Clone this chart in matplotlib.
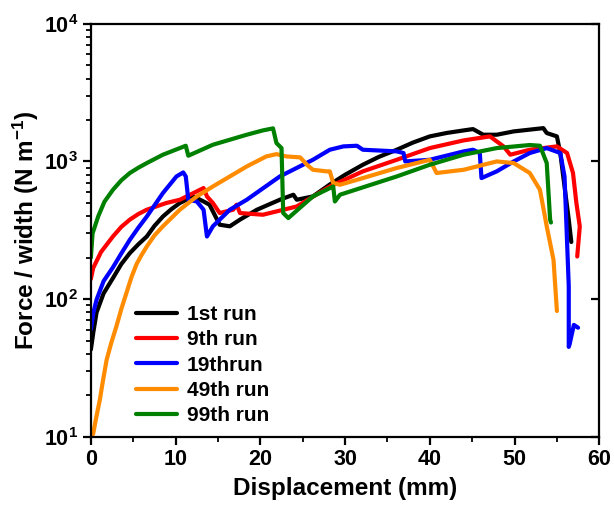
import matplotlib
matplotlib.use('Agg')
from matplotlib import pyplot as plt
from matplotlib.ticker import FixedLocator, LogLocator, NullFormatter, MultipleLocator

plt.rcParams['font.family'] = ['Liberation Sans', 'DejaVu Sans']
plt.rcParams['font.weight'] = 'bold'
plt.rcParams['mathtext.fontset'] = 'custom'
plt.rcParams['mathtext.rm'] = 'Liberation Sans:bold'
plt.rcParams['mathtext.bf'] = 'Liberation Sans:bold'
plt.rcParams['mathtext.default'] = 'bf'

# 1st run
x_1st = [0, 0.3, 0.67, 1.5, 2.6, 3.6, 4.6, 5.6, 6.6, 7.5, 8.5, 9.5, 10.5, 12.1, 13.3, 14.0, 15.2,
         16.4, 17.6, 19.6, 22.3, 23.9, 24.3, 26.2, 28.2, 30.0, 32.1, 34.0, 36.1, 38.0, 40.0, 42.0,
         44.0, 45.1, 46.3, 47.9, 49.9, 53.4, 53.8, 55.0, 55.4, 55.8, 56.4, 56.7]
y_1st = [43, 58, 80, 110, 142, 180, 216, 250, 285, 340, 398, 450, 499, 557, 512, 485, 347,
         338, 378, 446, 527, 573, 527, 557, 680, 800, 946, 1080, 1216, 1370, 1520, 1610,
         1680, 1718, 1563, 1563, 1652, 1745, 1608, 1520, 1151, 736, 378, 260]

# 9th run
x_9th = [0, 0.27, 1.2, 2.6, 3.6, 4.6, 5.6, 6.6, 8.9, 10.5, 12.1, 13.3, 13.7, 14.4, 15.2, 16.8,
         17.2, 17.6, 20.3, 24.3, 28.2, 32.1, 36.1, 40.0, 44.0, 47.1, 48.7, 49.5, 51.8, 55.0,
         56.2, 56.9, 57.3, 57.7, 57.4]
y_9th = [140, 168, 220, 285, 335, 378, 415, 446, 499, 527, 589, 641, 557, 499, 422, 446,
         485, 422, 410, 471, 658, 847, 1028, 1250, 1422, 1520, 1286, 1119, 1216, 1286,
         1151, 824, 499, 338, 204]

# 19th run
x_19th = [0, 0.3, 0.67, 1.5, 2.6, 3.6, 4.6, 5.6, 6.6, 8.5, 10.1, 10.9, 11.2, 11.5, 12.5, 13.3,
          13.7, 14.4, 16.4, 18.4, 22.3, 26.2, 28.2, 29.8, 31.4, 32.1, 36.1, 36.9, 37.1, 40.0,
          44.0, 45.1, 45.9, 46.1, 47.9, 49.9, 51.8, 53.8, 55.4, 55.9, 56.1, 56.4, 56.4, 56.5,
          57.0, 57.5]
y_19th = [60, 80, 99, 135, 170, 215, 270, 330, 398, 589, 778, 832, 778, 527, 512, 446,
          285, 338, 446, 527, 778, 1028, 1216, 1286, 1300, 1216, 1183, 1151, 1000, 1028,
          1183, 1216, 1151, 757, 847, 1000, 1151, 1250, 1151, 778, 378, 124, 45, 47,
          65, 62]

# 49th run
x_49th = [0, 0.27, 0.6, 1.06, 1.4, 1.85, 2.4, 3.0, 3.6, 4.2, 4.8, 5.4, 6.0, 6.6, 7.5, 8.5,
          10.5, 12.5, 14.4, 16.4, 18.4, 20.7, 21.9, 23.1, 24.7, 25.5, 26.2, 27.8, 28.2, 28.6,
          29.4, 32.1, 36.1, 40.0, 40.4, 40.8, 44.0, 47.9, 49.9, 51.8, 53.0, 53.8, 54.6, 55.0]
y_49th = [10, 10.5, 13.5, 18.6, 25, 36, 48, 63, 85, 111, 145, 180, 210, 241, 290, 338,
          446, 557, 658, 778, 920, 1087, 1130, 1087, 1070, 946, 870, 847, 847, 697,
          677, 757, 896, 1028, 920, 824, 870, 1000, 973, 824, 622, 338, 193, 82]

# 99th run
x_99th = [0, 0.2, 0.86, 1.6, 2.6, 3.6, 4.6, 5.6, 6.6, 8.5, 10.5, 11.2, 11.5, 14.4, 18.4, 20.3,
          21.5, 21.9, 22.5, 22.7, 23.3, 26.2, 28.6, 28.8, 29.4, 36.1, 40.0, 44.0, 47.9, 51.8,
          53.0, 53.8, 54.2, 54.3]
y_99th = [200, 300, 398, 510, 622, 730, 824, 900, 973, 1119, 1250, 1300, 1100, 1322, 1563,
          1680, 1738, 1360, 1250, 422, 388, 557, 658, 512, 573, 778, 946, 1119, 1250, 1316,
          1300, 973, 378, 360]

labels = ['1st run', '9th run', '19thrun', '49th run', '99th run']
colors = ['black', 'red', 'blue', '#ff8c00', 'green']
series = [(x_1st, y_1st), (x_9th, y_9th), (x_19th, y_19th), (x_49th, y_49th), (x_99th, y_99th)]

fig = plt.figure(figsize=(6.14, 5.05), dpi=100)
ax = fig.add_axes([0.148, 0.135, 0.828, 0.818])

for (xs, ys), c, lab in zip(series, colors, labels):
    ax.plot(xs, ys, color=c, lw=3, label=lab, solid_joinstyle='round', solid_capstyle='round')

ax.set_yscale('log')
ax.set_xlim(0, 60)
ax.set_ylim(10, 10000)

ax.xaxis.set_major_locator(MultipleLocator(10))
ax.xaxis.set_minor_locator(MultipleLocator(5))
ax.yaxis.set_major_locator(FixedLocator([10, 100, 1000, 10000]))
ax.yaxis.set_minor_locator(LogLocator(base=10, subs=range(2, 10)))
ax.yaxis.set_minor_formatter(NullFormatter())
ax.set_yticklabels([r'$\mathbf{10^{1}}$', r'$\mathbf{10^{2}}$', r'$\mathbf{10^{3}}$', r'$\mathbf{10^{4}}$'])

for s in ax.spines.values():
    s.set_linewidth(1.6)
ax.tick_params(which='major', length=6, width=1.6, labelsize=15.5, direction='out', pad=3)
ax.tick_params(which='minor', length=3.5, width=1.3, direction='out')

# inward major ticks on the right side
ax2 = ax.twinx()
ax2.set_yscale('log')
ax2.set_ylim(10, 10000)
ax2.yaxis.set_major_locator(FixedLocator([10, 100, 1000, 10000]))
ax2.yaxis.set_minor_locator(FixedLocator([]))
ax2.tick_params(axis='y', which='major', direction='in', length=6, width=1.6, labelright=False)
for s in ax2.spines.values():
    s.set_visible(False)

ax.set_xlabel('Displacement (mm)', fontsize=17.5, fontweight='bold', labelpad=5)
ax.set_ylabel(r'Force / width (N m$\mathbf{^{-1}}$)', fontsize=17.5, fontweight='bold', labelpad=2)

leg = ax.legend(loc='lower left', bbox_to_anchor=(0.072, 0.008), frameon=False, fontsize=15,
                handlelength=2.0, handletextpad=0.45, labelspacing=0.3, borderaxespad=0)

fig.savefig('out.png', dpi=100)
